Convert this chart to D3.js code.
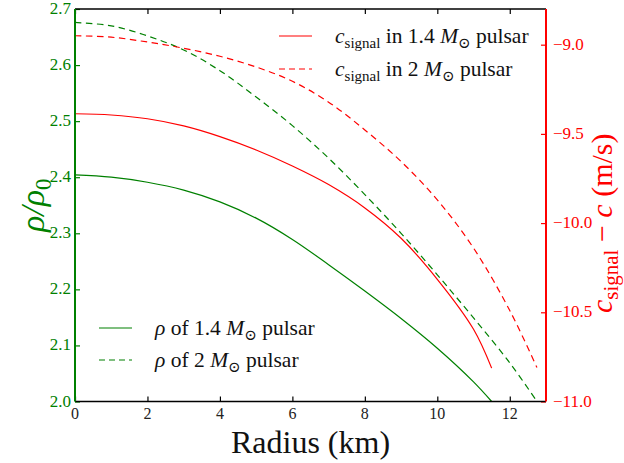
<!DOCTYPE html>
<html>
<head>
<meta charset="utf-8">
<script src="https://cdn.jsdelivr.net/npm/d3@7"></script>
<style>
  body { margin: 0; background: #fff; }
  text { font-family: "Liberation Serif", "DejaVu Serif", serif; }
</style>
</head>
<body>
<div id="chart"></div>
<script>
// radius grids (km) for the two stars
const radiusLight = [0, 1, 2, 3, 4, 5, 6, 7, 8, 9, 10, 11, 11.5];
const radiusHeavy = [0, 1, 2, 3, 4, 5, 6, 7, 8, 9, 10, 11, 12, 12.75];

// rho / rho0
const rhoLight = [2.404, 2.400, 2.391, 2.377, 2.356, 2.327, 2.289, 2.244, 2.197, 2.148, 2.095, 2.035, 2.0];
const rhoHeavy = [2.676, 2.670, 2.652, 2.627, 2.590, 2.543, 2.492, 2.434, 2.369, 2.300, 2.226, 2.149, 2.069, 2.0];

// c_signal - c (m/s)
const cLight = [-9.387, -9.394, -9.415, -9.455, -9.515, -9.590, -9.680, -9.784, -9.915, -10.085, -10.315, -10.595, -10.813];
const cHeavy = [-8.950, -8.958, -8.985, -9.020, -9.065, -9.125, -9.205, -9.322, -9.478, -9.655, -9.870, -10.14, -10.49, -10.81];

const xTicks = [0, 2, 4, 6, 8, 10, 12];
const leftTicks = [2.0, 2.1, 2.2, 2.3, 2.4, 2.5, 2.6, 2.7];
const rightTicks = [-9.0, -9.5, -10.0, -10.5, -11.0];

const W = 624, H = 463;
const setup = { left: 75, right: 546, top: 9, bottom: 401.5 };
const GREEN = "#008000", RED = "#ff0000";

const svg = d3.select("#chart").append("svg")
  .attr("width", W)
  .attr("height", H);

const x = d3.scaleLinear().domain([0, 13]).range([setup.left, setup.right]);
const yL = d3.scaleLinear().domain([2.0, 2.7]).range([setup.bottom, setup.top]);
const yR = d3.scaleLinear().domain([-11.0, -8.8]).range([setup.bottom, setup.top]);

const fmt1 = d => d3.format(".1f")(d).replace("-", "\u2212");

// curves
const drawLine = (xs, ys, yscale, color, dash) => {
  const data = xs.map((r, i) => [r, ys[i]]);
  svg.append("path")
    .datum(data)
    .attr("fill", "none")
    .attr("stroke", color)
    .attr("stroke-width", 1.2)
    .attr("stroke-dasharray", dash)
    .attr("d", d3.line()
      .x(d => x(d[0]))
      .y(d => yscale(d[1]))
      .curve(d3.curveCatmullRom.alpha(0.5)));
};
drawLine(radiusLight, rhoLight, yL, GREEN, null);
drawLine(radiusHeavy, rhoHeavy, yL, GREEN, "6.5,4.5");
drawLine(radiusLight, cLight, yR, RED, null);
drawLine(radiusHeavy, cHeavy, yR, RED, "6.5,4.5");

// axes (ticks pointing inward)
const bottomAx = svg.append("g")
  .attr("transform", `translate(0,${setup.bottom})`)
  .call(d3.axisTop(x).tickValues(xTicks).tickSize(5).tickFormat(""));
const topAx = svg.append("g")
  .attr("transform", `translate(0,${setup.top})`)
  .call(d3.axisBottom(x).tickValues(xTicks).tickSize(5).tickFormat(""));
[bottomAx, topAx].forEach(g => {
  g.select(".domain").remove();
  g.selectAll("line").attr("stroke", "#000").attr("stroke-width", 1.2);
});

const leftAx = svg.append("g")
  .attr("transform", `translate(${setup.left},0)`)
  .call(d3.axisRight(yL).tickValues(leftTicks).tickSize(5).tickFormat(""));
leftAx.select(".domain").remove();
leftAx.selectAll("line").attr("stroke", GREEN).attr("stroke-width", 1.2);

const rightAx = svg.append("g")
  .attr("transform", `translate(${setup.right},0)`)
  .call(d3.axisLeft(yR).tickValues(rightTicks).tickSize(5).tickFormat(""));
rightAx.select(".domain").remove();
rightAx.selectAll("line").attr("stroke", RED).attr("stroke-width", 1.2);

// tick labels
svg.append("g").selectAll("text")
  .data(xTicks).enter().append("text")
  .attr("x", d => x(d))
  .attr("y", setup.bottom + 17)
  .attr("text-anchor", "middle")
  .attr("font-size", 16)
  .attr("fill", "#222")
  .text(d => d);

svg.append("g").selectAll("text")
  .data(leftTicks).enter().append("text")
  .attr("x", setup.left - 4)
  .attr("y", d => yL(d) + 5)
  .attr("text-anchor", "end")
  .attr("font-size", 17)
  .attr("fill", GREEN)
  .text(d => d.toFixed(1));

svg.append("g").selectAll("text")
  .data(rightTicks).enter().append("text")
  .attr("x", setup.right + 7)
  .attr("y", d => yR(d) + 5)
  .attr("text-anchor", "start")
  .attr("font-size", 17)
  .attr("fill", RED)
  .text(fmt1);

// spines
const spine = (x1, y1, x2, y2, c, w) => svg.append("line")
  .attr("x1", x1).attr("y1", y1).attr("x2", x2).attr("y2", y2)
  .attr("stroke", c).attr("stroke-width", w);
spine(setup.left, setup.top, setup.right, setup.top, "#000", 1.5);
spine(setup.left, setup.bottom, setup.right, setup.bottom, "#000", 1.5);
spine(setup.left, setup.top, setup.left, setup.bottom, GREEN, 2);
spine(setup.right, setup.top, setup.right, setup.bottom, RED, 2);

// axis labels
svg.append("text")
  .attr("x", (setup.left + setup.right) / 2)
  .attr("y", 453)
  .attr("text-anchor", "middle")
  .attr("font-size", 32)
  .attr("fill", "#111")
  .text("Radius (km)");

const lLab = svg.append("text")
  .attr("transform", `translate(44,${(setup.top + setup.bottom) / 2}) rotate(-90)`)
  .attr("text-anchor", "middle")
  .attr("font-size", 34)
  .attr("fill", GREEN);
lLab.append("tspan").attr("font-style", "italic").text("\u03c1/\u03c1");
lLab.append("tspan").attr("font-size", 23).attr("dy", 7).text("0");

const rLab = svg.append("text")
  .attr("transform", `translate(612,${(setup.top + setup.bottom) / 2 + 18}) rotate(-90)`)
  .attr("text-anchor", "middle")
  .attr("font-size", 30)
  .attr("fill", RED);
rLab.append("tspan").attr("font-style", "italic").text("c");
rLab.append("tspan").attr("font-size", 21).attr("dy", 6).text("signal");
rLab.append("tspan").attr("dy", -6).text(" \u2212 ");
rLab.append("tspan").attr("font-style", "italic").text("c");
rLab.append("tspan").text(" (m/s)");

// legends
const legendRow = (g, lx, ly, color, dash, parts) => {
  g.append("line")
    .attr("x1", lx).attr("x2", lx + 33).attr("y1", ly).attr("y2", ly)
    .attr("stroke", color).attr("stroke-width", 1.2)
    .attr("stroke-dasharray", dash);
  const t = g.append("text")
    .attr("x", lx + 56).attr("y", ly + 7)
    .attr("font-size", 21.5).attr("fill", "#111");
  parts.forEach(p => {
    const s = t.append("tspan").text(p.t);
    if (p.it) s.attr("font-style", "italic");
    if (p.size) s.attr("font-size", p.size);
    if (p.dy) s.attr("dy", p.dy);
  });
};

const sigRow = mass => [
  { t: "c", it: true }, { t: "signal", size: 15, dy: 5 }, { t: ` in ${mass} `, dy: -5 },
  { t: "M", it: true }, { t: "\u2299", size: 15, dy: 5 }, { t: " pulsar", dy: -5 }
];
const rhoRow = mass => [
  { t: "\u03c1", it: true }, { t: ` of ${mass} ` },
  { t: "M", it: true }, { t: "\u2299", size: 15, dy: 5 }, { t: " pulsar", dy: -5 }
];

const legTop = svg.append("g").attr("class", "legend");
legendRow(legTop, 279, 36, RED, null, sigRow("1.4"));
legendRow(legTop, 279, 69, RED, "6,4", sigRow("2"));

const legBottom = svg.append("g").attr("class", "legend");
legendRow(legBottom, 99, 328, GREEN, null, rhoRow("1.4"));
legendRow(legBottom, 99, 360, GREEN, "6,4", rhoRow("2"));
</script>
</body>
</html>
